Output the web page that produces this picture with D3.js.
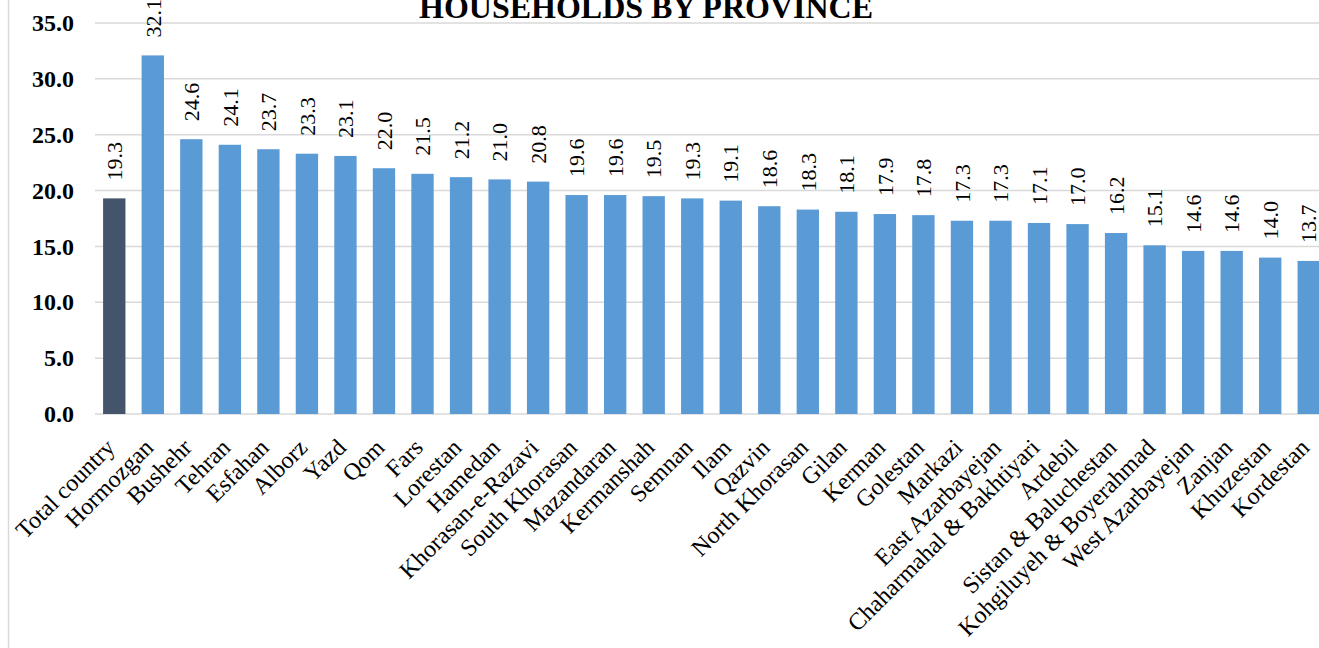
<!DOCTYPE html>
<html><head><meta charset="utf-8">
<script src="https://cdn.jsdelivr.net/npm/d3@7"></script>
<style>html,body{margin:0;padding:0;background:#fff;overflow:hidden}</style>
</head><body>
<svg id="c" width="1319" height="648"></svg>
<script>
const categories = ["Total country","Hormozgan","Bushehr","Tehran","Esfahan","Alborz","Yazd","Qom","Fars","Lorestan","Hamedan","Khorasan-e-Razavi","South Khorasan","Mazandaran","Kermanshah","Semnan","Ilam","Qazvin","North Khorasan","Gilan","Kerman","Golestan","Markazi","East Azarbayejan","Chaharmahal & Bakhtiyari","Ardebil","Sistan & Baluchestan","Kohgiluyeh & Boyerahmad","West Azarbayejan","Zanjan","Khuzestan","Kordestan"];
const values = [19.3,32.1,24.6,24.1,23.7,23.3,23.1,22.0,21.5,21.2,21.0,20.8,19.6,19.6,19.5,19.3,19.1,18.6,18.3,18.1,17.9,17.8,17.3,17.3,17.1,17.0,16.2,15.1,14.6,14.6,14.0,13.7];
const yTicks = [0,5,10,15,20,25,30,35];
const title = "HOUSEHOLDS BY PROVINCE";

const svg = d3.select("#c");
const serif = "Liberation Serif, Times New Roman, serif";

// frame line on the left
svg.append("line").attr("x1",8.5).attr("x2",8.5).attr("y1",0).attr("y2",648)
  .attr("stroke","#d9d9d9").attr("stroke-width",1.5);

const x = d3.scaleBand().domain(categories).range([95, 1328]).paddingInner(0.42).paddingOuter(0.21);
const y = d3.scaleLinear().domain([0,35]).range([414, 23]);

// gridlines
svg.append("g").selectAll("line").data(yTicks).join("line")
  .attr("x1",95).attr("x2",1319).attr("y1",d=>y(d)).attr("y2",d=>y(d))
  .attr("stroke","#d9d9d9").attr("stroke-width",1.5);

// y axis labels
const yAxis = d3.axisLeft(y).tickValues(yTicks).tickFormat(d3.format(".1f")).tickSize(0).tickPadding(0);
const ga = svg.append("g").attr("transform","translate(74,0)").call(yAxis);
ga.select(".domain").remove();
ga.selectAll("text").attr("font-family",serif).attr("font-size",24).attr("font-weight","bold").attr("fill","#000");

// bars
svg.append("g").selectAll("rect").data(categories).join("rect")
  .attr("x",d=>x(d)).attr("width",x.bandwidth())
  .attr("y",(d,i)=>y(values[i])).attr("height",(d,i)=>y(0)-y(values[i]))
  .attr("fill",(d,i)=>i===0?"#44546A":"#5B9BD5");

// value labels
svg.append("g").selectAll("text").data(categories).join("text")
  .attr("transform",(d,i)=>`translate(${x(d)+x.bandwidth()/2},${y(values[i])-18}) rotate(-90)`)
  .attr("dy","0.35em").attr("text-anchor","start")
  .attr("font-family",serif).attr("font-size",22).attr("fill","#000")
  .text((d,i)=>values[i].toFixed(1));

// x labels
svg.append("g").selectAll("text").data(categories).join("text")
  .attr("transform",d=>`translate(${x(d)+x.bandwidth()/2-4},${443}) rotate(-45)`)
  .attr("text-anchor","end").attr("dy","0.35em")
  .attr("font-family",serif).attr("font-size",24).attr("fill","#000")
  .text(d=>d);

// title
svg.append("text").attr("x",646).attr("y",18).attr("text-anchor","middle")
  .attr("font-family",serif).attr("font-size",32).attr("font-weight","bold").attr("fill","#000")
  .text(title);
</script>
</body></html>
